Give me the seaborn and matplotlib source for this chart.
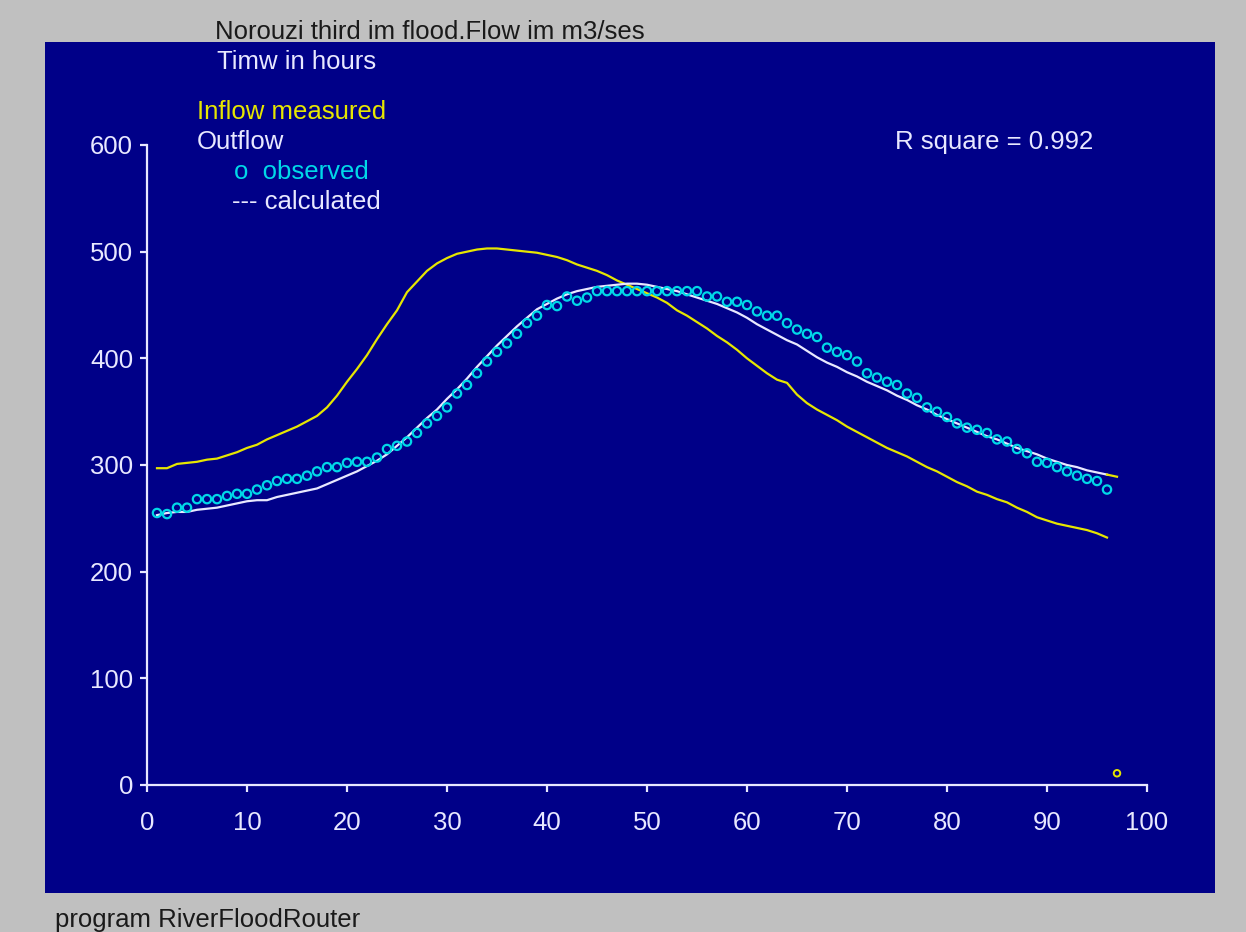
import numpy as np
import pandas as pd
import matplotlib
matplotlib.use("Agg")
import matplotlib.pyplot as plt
import seaborn as sns
from matplotlib.patches import Rectangle

hours = list(range(1, 97))

inflow = [297, 297, 301, 302, 303, 305, 306, 309, 312, 316,
          319, 324, 328, 332, 336, 341, 346, 354, 365, 378,
          390, 403, 418, 432, 445, 462, 472, 482, 489, 494,
          498, 500, 502, 503, 503, 502, 501, 500, 499, 497,
          495, 492, 488, 485, 482, 478, 473, 469, 465, 461,
          457, 452, 445, 440, 434, 428, 421, 415, 408, 400,
          393, 386, 380, 377, 366, 358, 352, 347, 342, 336,
          331, 326, 321, 316, 312, 308, 303, 298, 294, 289,
          284, 280, 275, 272, 268, 265, 260, 256, 251, 248,
          245, 243, 241, 239, 236, 232]

calculated = [253, 255, 256, 256, 258, 259, 260, 262, 264, 266,
              267, 267, 270, 272, 274, 276, 278, 282, 286, 290,
              294, 299, 304, 310, 318, 326, 335, 344, 352, 362,
              371, 381, 392, 402, 412, 421, 430, 438, 446, 451,
              456, 460, 463, 465, 467, 468, 469, 470, 470, 469,
              467, 465, 463, 460, 457, 454, 451, 447, 443, 438,
              432, 427, 422, 417, 413, 407, 401, 396, 392, 387,
              383, 378, 374, 370, 365, 361, 356, 352, 347, 343,
              339, 335, 331, 327, 324, 320, 316, 313, 310, 306,
              303, 300, 298, 295, 293, 291]

observed = [255, 254, 260, 260, 268, 268, 268, 271, 273, 273,
            277, 281, 285, 287, 287, 290, 294, 298, 298, 302,
            303, 303, 307, 315, 318, 322, 330, 339, 346, 354,
            367, 375, 386, 397, 406, 414, 423, 433, 440, 450,
            449, 458, 454, 457, 463, 463, 463, 463, 463, 463,
            463, 463, 463, 463, 463, 458, 458, 453, 453, 450,
            444, 440, 440, 433, 427, 423, 420, 410, 406, 403,
            397, 386, 382, 378, 375, 367, 363, 354, 350, 345,
            339, 335, 333, 330, 324, 322, 315, 311, 303, 302,
            298, 294, 290, 287, 285, 277]

# small yellow tail at the end of the calculated curve
tail_hours = [96, 97]
tail_values = [291, 289]

# stray yellow point near the x axis
extra_hour = [97]
extra_value = [11]

x_ticks = [0, 10, 20, 30, 40, 50, 60, 70, 80, 90, 100]
y_ticks = [0, 100, 200, 300, 400, 500, 600]

df = pd.DataFrame({"hour": hours, "inflow": inflow,
                   "calculated": calculated, "observed": observed})
df_tail = pd.DataFrame({"hour": tail_hours, "value": tail_values})
df_extra = pd.DataFrame({"hour": extra_hour, "value": extra_value})

W, H = 1246, 932
fig = plt.figure(figsize=(W / 100, H / 100), dpi=100)
fig.patch.set_facecolor("#c0c0c0")

NAVY = "#000088"
YELLOW = "#e6e600"
CYAN = "#00d8e8"
WHITE = "#e8e8ff"
FONT = ["Liberation Sans", "DejaVu Sans"]
FS = 18.5

# navy panel
fig.patches.append(Rectangle((45 / W, 1 - 893 / H), (1215 - 45) / W, (893 - 42) / H,
                             transform=fig.transFigure, facecolor=NAVY,
                             edgecolor="none", zorder=-5))

ax = fig.add_axes([147 / W, 1 - 785 / H, 1000 / W, 640 / H])
ax.set_zorder(2)
ax.set_facecolor("none")

sns.lineplot(data=df, x="hour", y="inflow", ax=ax, color=YELLOW, lw=1.6)
sns.lineplot(data=df, x="hour", y="calculated", ax=ax, color=WHITE, lw=1.6)
sns.lineplot(data=df_tail, x="hour", y="value", ax=ax, color=YELLOW, lw=1.6)
sns.scatterplot(data=df, x="hour", y="observed", ax=ax, marker="o",
                s=36, facecolors="none", edgecolor=CYAN, linewidth=1.6, zorder=5)
sns.scatterplot(data=df_extra, x="hour", y="value", ax=ax, marker="o",
                s=22, facecolors="none", edgecolor=YELLOW, linewidth=1.4,
                zorder=5, clip_on=False)

ax.set_xlim(0, 100)
ax.set_ylim(0, 600)
ax.set_xticks(x_ticks)
ax.set_yticks(y_ticks)
ax.set_xlabel("")
ax.set_ylabel("")
for s in ["top", "right"]:
    ax.spines[s].set_visible(False)
for s in ["left", "bottom"]:
    ax.spines[s].set_color(WHITE)
    ax.spines[s].set_linewidth(1.6)
ax.tick_params(colors=WHITE, labelcolor=WHITE, length=5, width=1.6,
               labelsize=FS)
ax.tick_params(axis="y", pad=5)
ax.tick_params(axis="x", pad=14)
for lab in ax.get_xticklabels() + ax.get_yticklabels():
    lab.set_family(FONT)
ax.grid(False)

def ftext(x, y, s, color, size=FS):
    fig.text(x / W, 1 - y / H, s, color=color, fontsize=size,
             family=FONT, va="center", ha="left", zorder=3)

ftext(215, 32, "Norouzi third im flood.Flow im m3/ses", "#1a1a1a")
ftext(217, 62, "Timw in hours", WHITE)
ftext(197, 112, "Inflow measured", YELLOW)
ftext(197, 142, "Outflow", WHITE)
ftext(234, 172, "o  observed", CYAN)
ftext(232, 202, "--- calculated", WHITE)
ftext(895, 142, "R square = 0.992", WHITE)
ftext(55, 920, "program RiverFloodRouter", "#1a1a1a")

fig.savefig("out.png", dpi=100, facecolor=fig.get_facecolor())
